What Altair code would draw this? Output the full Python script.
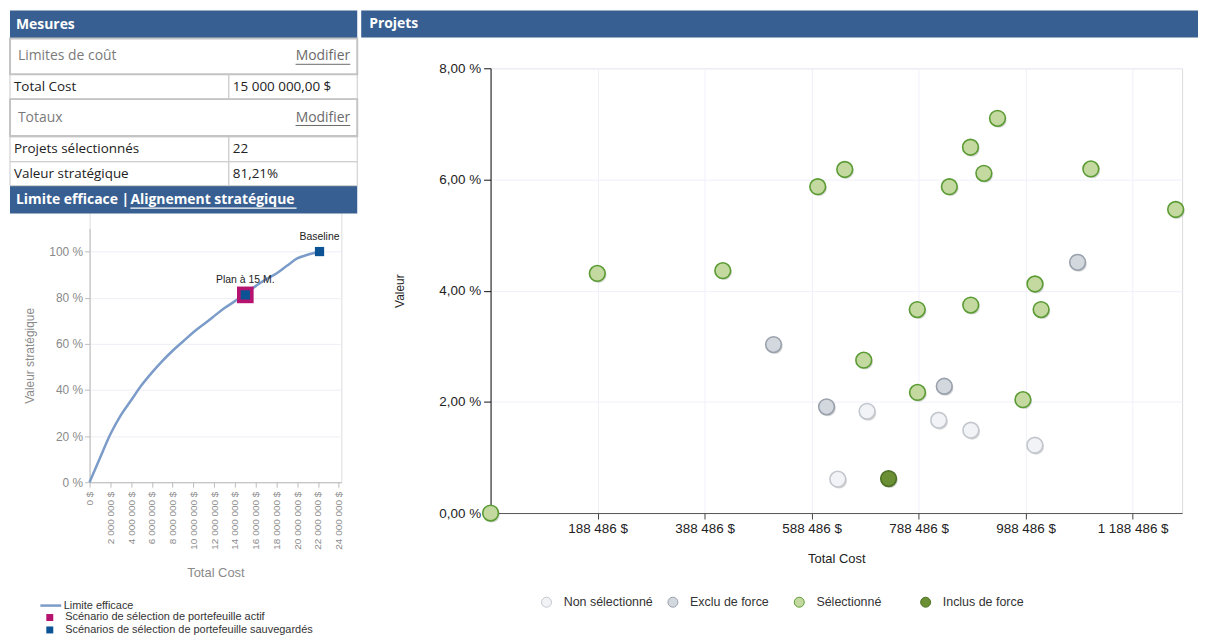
import altair as alt
import pandas as pd

# ---------------- data ----------------
# Efficient frontier (left chart), cost in millions of $, strategic value in %
frontier_cost_m = [0, 1, 2, 3, 4, 5, 6, 7, 8, 9, 10, 11, 12, 13, 14, 15, 16, 17, 18, 19, 20, 21, 22, 22.15]
frontier_value = [0, 10.5, 20.8, 29, 35.5, 42, 47.5, 52.5, 57, 61, 65, 68.5, 72, 75.5, 78.5, 82, 85, 88, 90.5, 93.8, 97, 98.6, 99.8, 100]

scenario_names = ["Plan à 15 M.", "Baseline"]
scenario_cost_m = [15.0, 22.15]
scenario_value = [81.21, 100.0]
active_scenario = "Plan à 15 M."

frontier_series = "Limite efficace"
scenario_kinds = ["Scénario de sélection de portefeuille actif",
                  "Scénarios de sélection de portefeuille sauvegardés"]

# Projects (right chart)
project_cost = [188000, 422500, 600000, 650500, 686000, 786000, 786500, 846000, 885500, 886000,
                910500, 936000, 983500, 1006000, 1017500, 1110500, 1269000, -11514,
                732400,
                517400, 616500, 836500, 1085700,
                692200, 637500, 826100, 886200, 1005800]
project_value = [4.31, 4.36, 5.87, 6.18, 2.75, 3.66, 2.17, 5.87, 6.58, 3.74,
                 6.11, 7.10, 2.04, 4.12, 3.66, 6.19, 5.46, 0.0,
                 0.62,
                 3.03, 1.91, 2.28, 4.51,
                 1.83, 0.61, 1.67, 1.49, 1.22]
project_status = (["Sélectionné"] * 18 + ["Inclus de force"] + ["Exclu de force"] * 4
                  + ["Non sélectionné"] * 5)
status_order = ["Non sélectionné", "Exclu de force", "Sélectionné", "Inclus de force"]
cost_ticks = [188486, 388486, 588486, 788486, 988486, 1188486]

# Measures table
panel_titles = ["Mesures", "Projets"]
footer_title = "Limite efficace"
footer_sep = "|"
footer_link = "Alignement stratégique"
section_labels = ["Limites de coût", "Totaux"]
section_link = "Modifier"
measure_labels = ["Total Cost", "Projets sélectionnés", "Valeur stratégique"]
measure_values = ["15 000 000,00 $", "22", "81,21%"]

# ---------------- styles / layout ----------------
BLUE_HDR = "#385F91"
FONT_T = "Open Sans"
FONT_C = "Liberation Sans"
LW, LH = 253, 416          # left panel area (line chart occupies its lower part)
LINE_TOP = 161             # top of the frontier chart inside the left panel
RW, RH = 695, 447          # right plot area
TABLE_LEFT, TABLE_TOP, TABLE_W, TABLE_H = -80, -58, 349, 204
COL_SPLIT = 220
header_rows = [(0, 28), (176, 204)]
section_rows = [(28, 64), (89, 126)]
measure_rows = [(64, 89), (127, 152), (152, 176)]

# ---------------- left: efficient frontier ----------------
front_df = pd.DataFrame({"cost": [c * 1e6 for c in frontier_cost_m], "value": frontier_value,
                         "serie": frontier_series})
scen_rows = []
for n, c, v in zip(scenario_names, scenario_cost_m, scenario_value):
    if n == active_scenario:
        scen_rows.append({"name": n, "cost": c * 1e6, "value": v, "kind": scenario_kinds[0]})
for n, c, v in zip(scenario_names, scenario_cost_m, scenario_value):
    scen_rows.append({"name": n, "cost": c * 1e6, "value": v, "kind": scenario_kinds[1]})
scen_df = pd.DataFrame(scen_rows)

lx = alt.X("cost:Q", scale=alt.Scale(domain=[0, 24.25e6], nice=False, zero=False),
           axis=alt.Axis(values=list(range(0, 24000001, 2000000)), tickCount=40,
                         labelExpr="replace(format(datum.value, ',d'), regexp(',', 'g'), ' ') + ' $'",
                         labelAngle=270, labelFontSize=10, labelColor="#8a8a8a", labelPadding=4,
                         labelOverlap=False, labelBound=False,
                         tickColor="#bbbbbb", domainColor="#bbbbbb", tickSize=5, grid=False,
                         title="Total Cost", titleColor="#8a8a8a", titleFontSize=13,
                         titleFontWeight="normal", titlePadding=17))
ly = alt.Y("value:Q", scale=alt.Scale(domain=[0, 110], range=[LH, LINE_TOP], nice=False),
           axis=alt.Axis(values=[0, 20, 40, 60, 80, 100], tickCount=20, labelExpr="datum.value + ' %'",
                         labelFontSize=12, labelColor="#8a8a8a", labelPadding=2, tickSize=5,
                         tickColor="#bbbbbb", domainColor="#bbbbbb", gridColor="#eeeef6",
                         title="Valeur stratégique", titleColor="#8a8a8a", titleFontSize=12,
                         titleFontWeight="normal", titlePadding=12))

line = alt.Chart(front_df).mark_line(strokeWidth=2.5, interpolate="monotone").encode(
    x=lx, y=ly,
    color=alt.Color("serie:N", scale=alt.Scale(domain=[frontier_series], range=["#7B9BC9"]),
                    legend=alt.Legend(orient="none", legendX=-51, legendY=528, title=None,
                                      symbolType="stroke", symbolSize=441, symbolStrokeWidth=2.5,
                                      labelFontSize=11, labelColor="#333333", labelOffset=1,
                                      labelLimit=400, padding=0, labelFont=FONT_C)))
kind_scale = alt.Scale(domain=scenario_kinds, range=["#B5136F", "#0B5394"])
kind_legend = alt.Legend(orient="none", legendX=-45.5, legendY=546.5, title=None, symbolType="square",
                         symbolSize=49, symbolStrokeWidth=0, labelFontSize=11, labelColor="#333333",
                         labelOffset=10, rowPadding=0.5, padding=0, labelLimit=400, labelFont=FONT_C)
active_pt = alt.Chart(scen_df).transform_filter(
    alt.datum.kind == scenario_kinds[0]).mark_point(shape="square", filled=True, size=280, opacity=1).encode(
    x="cost:Q", y="value:Q", fill=alt.Fill("kind:N", scale=kind_scale, legend=kind_legend))
saved_pt = alt.Chart(scen_df).transform_filter(
    alt.datum.kind == scenario_kinds[1]).mark_point(shape="square", filled=True, size=86, opacity=1).encode(
    x="cost:Q", y="value:Q", fill=alt.Fill("kind:N", scale=kind_scale, legend=kind_legend))
saved_lbl = alt.Chart(scen_df).transform_filter(
    alt.datum.kind == scenario_kinds[1]).mark_text(dy=-14.5, fontSize=10.5, color="#222222", font=FONT_C).encode(
    x="cost:Q", y="value:Q", text="name:N")
chart_part = alt.layer(line, active_pt, saved_pt, saved_lbl)

# measures table drawn in its own layout scale above the frontier chart
tX = alt.Scale(domain=[0, TABLE_W], range=[TABLE_LEFT, TABLE_LEFT + TABLE_W], nice=False, zero=False)
tY = alt.Scale(domain=[0, TABLE_H], range=[TABLE_TOP, TABLE_TOP + TABLE_H], nice=False, zero=False)

def txy(xf, yf):
    return dict(x=alt.X(xf, type="quantitative", scale=tX, axis=None),
                y=alt.Y(yf, type="quantitative", scale=tY, axis=None))

hdr_rect_df = pd.DataFrame({"x0": [0, 0], "x1": [TABLE_W, TABLE_W],
                            "y0": [r[0] for r in header_rows], "y1": [r[1] for r in header_rows]})
sec_rect_df = pd.DataFrame({"x0": [0, 0], "x1": [TABLE_W, TABLE_W],
                            "y0": [r[0] for r in section_rows], "y1": [r[1] for r in section_rows]})
cell_rows = []
for (a, b) in measure_rows:
    cell_rows.append({"x0": 0, "x1": COL_SPLIT, "y0": a, "y1": b})
    cell_rows.append({"x0": COL_SPLIT, "x1": TABLE_W, "y0": a, "y1": b})
cell_df = pd.DataFrame(cell_rows)

hm0 = (header_rows[0][0] + header_rows[0][1]) / 2 + 0.5
hm1 = (header_rows[1][0] + header_rows[1][1]) / 2 + 0.5
hdr_txt_df = pd.DataFrame({"t": [panel_titles[0], footer_title, footer_sep, footer_link],
                           "x": [6, 6, 112, 121], "y": [hm0, hm1, hm1, hm1]})
sec_txt_df = pd.DataFrame({"t": section_labels, "x": 8,
                           "y": [(a + b) / 2 for a, b in section_rows]})
link_txt_df = pd.DataFrame({"t": [section_link] * 2, "x": TABLE_W - 7,
                            "y": [(a + b) / 2 for a, b in section_rows]})
meas_txt_df = pd.DataFrame({"t": measure_labels, "v": measure_values, "x": 4, "xv": COL_SPLIT + 4,
                            "y": [(a + b) / 2 for a, b in measure_rows]})
ul_grey_df = pd.DataFrame({"x0": [TABLE_W - 62] * 2, "x1": [TABLE_W - 7] * 2,
                           "y": [(a + b) / 2 + 8 for a, b in section_rows]})
ul_white_df = pd.DataFrame({"x0": [121], "x1": [288], "y": [hm1 + 8]})

t_hdr = alt.Chart(hdr_rect_df).mark_rect(color=BLUE_HDR).encode(
    **txy("x0", "y0"), x2="x1:Q", y2="y1:Q")
t_cells = alt.Chart(cell_df).mark_rect(fill="white", stroke="#c8c8c8", strokeWidth=1).encode(
    **txy("x0", "y0"), x2="x1:Q", y2="y1:Q")
t_secs = alt.Chart(sec_rect_df).mark_rect(fill="white", stroke="#c4c4c4", strokeWidth=2).encode(
    **txy("x0", "y0"), x2="x1:Q", y2="y1:Q")
t_hdr_txt = alt.Chart(hdr_txt_df).mark_text(align="left", baseline="middle", font=FONT_T, fontSize=14,
                                            fontWeight="bold", color="white").encode(**txy("x", "y"), text="t:N")
t_sec_txt = alt.Chart(sec_txt_df).mark_text(align="left", baseline="middle", font=FONT_T, fontSize=14,
                                            color="#7a7a7a").encode(**txy("x", "y"), text="t:N")
t_link_txt = alt.Chart(link_txt_df).mark_text(align="right", baseline="middle", font=FONT_T, fontSize=14,
                                              color="#6a6a6a").encode(**txy("x", "y"), text="t:N")
t_meas_txt = alt.Chart(meas_txt_df).mark_text(align="left", baseline="middle", font=FONT_T, fontSize=13.5,
                                              color="#222222").encode(**txy("x", "y"), text="t:N")
t_meas_val = alt.Chart(meas_txt_df).mark_text(align="left", baseline="middle", font=FONT_T, fontSize=13.5,
                                              color="#222222").encode(**txy("xv", "y"), text="v:N")
t_ul_grey = alt.Chart(ul_grey_df).mark_rule(color="#6a6a6a", strokeWidth=1).encode(
    **txy("x0", "y"), x2="x1:Q")
t_ul_white = alt.Chart(ul_white_df).mark_rule(color="white", strokeWidth=1.2).encode(
    **txy("x0", "y"), x2="x1:Q")
table_part = alt.layer(t_hdr, t_cells, t_secs, t_hdr_txt, t_sec_txt, t_link_txt, t_meas_txt,
                       t_meas_val, t_ul_grey, t_ul_white)

left = alt.layer(chart_part, table_part).resolve_scale(
    x="independent", y="independent").properties(width=LW, height=LH)

# ---------------- right: projects scatter ----------------
proj_df = pd.DataFrame({"cost": project_cost, "value": project_value, "status": project_status})
fill_range = ["#F2F3F6", "#D3D7DE", "#C4D9A0", "#6A8F35"]
stroke_range = ["#C2C6CD", "#99A1AC", "#5A9B33", "#4C7024"]
rx = alt.X("cost:Q", scale=alt.Scale(domain=[-11514, 1281000], nice=False, zero=False),
           axis=alt.Axis(values=cost_ticks, tickCount=40,
                         labelExpr="replace(format(datum.value, ',d'), regexp(',', 'g'), ' ') + ' $'",
                         labelFontSize=13.5, labelColor="#222222", labelPadding=3, tickSize=6,
                         tickColor="#444444", domainColor="#555555", gridColor="#f0f0fa",
                         title="Total Cost", titleFontSize=13, titleFontWeight="normal",
                         titleColor="#222222", titlePadding=17))
ry = alt.Y("value:Q", scale=alt.Scale(domain=[0, 8], nice=False),
           axis=alt.Axis(values=[0, 2, 4, 6, 8], tickCount=20,
                         labelExpr="replace(format(datum.value, '.2f'), '.', ',') + ' %'",
                         labelFontSize=13.5, labelColor="#222222", labelPadding=3, tickSize=7,
                         tickColor="#111111", domainColor="#111111", gridColor="#f0f0fa",
                         title="Valeur", titleFontSize=12, titleFontWeight="normal",
                         titleColor="#222222", titlePadding=32))
status_legend = alt.Legend(orient="none", legendX=50, legendY=530, direction="horizontal", title=None,
                           symbolType="circle", symbolSize=100, symbolStrokeWidth=1, labelFontSize=12.5,
                           labelColor="#333333", labelOffset=11, columnPadding=12, gridAlign="all",
                           padding=0, labelFont=FONT_C)

hdr_r = alt.Chart(pd.DataFrame({"t": [panel_titles[1]]})).mark_rect(color=BLUE_HDR).encode(
    x=alt.value(-130), x2=alt.value(711), y=alt.value(-58), y2=alt.value(-31))
hdr_r_txt = alt.Chart(pd.DataFrame({"t": [panel_titles[1]]})).mark_text(
    align="left", baseline="middle", font=FONT_T, fontSize=14, fontWeight="bold", color="white").encode(
    x=alt.value(-122), y=alt.value(-44), text="t:N")
shadow = alt.Chart(proj_df).mark_circle(size=250, color="#000000", opacity=0.16,
                                        xOffset=1.3, yOffset=1.6).encode(x=rx, y=ry)
pts = alt.Chart(proj_df).mark_circle(size=250, opacity=1, strokeWidth=1.6).encode(
    x=rx, y=ry,
    color=alt.Color("status:N", scale=alt.Scale(domain=status_order, range=fill_range), legend=status_legend),
    stroke=alt.Stroke("status:N", scale=alt.Scale(domain=status_order, range=stroke_range), legend=status_legend))
right = alt.layer(hdr_r, hdr_r_txt, shadow, pts).properties(width=RW, height=RH)

chart = alt.hconcat(left, right, spacing=1, padding=0).resolve_scale(
    color="independent", fill="independent", stroke="independent").resolve_legend(
    color="independent", fill="independent", stroke="independent").configure_view(
    stroke=None).configure(font=FONT_C)

chart.save("out.html", embed_options={"renderer": "svg", "actions": False})
